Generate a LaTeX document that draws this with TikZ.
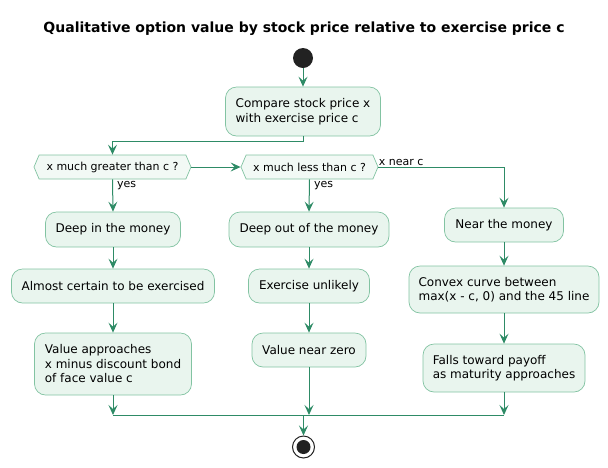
\documentclass[tikz,border=0pt]{standalone}
\usepackage{fontspec}
\setmainfont{DejaVu Sans}
\usetikzlibrary{arrows.meta,shapes.symbols}
\definecolor{boxfill}{HTML}{E9F5EE}
\definecolor{boxdraw}{HTML}{82C3A2}
\definecolor{lnk}{HTML}{2E8B66}
\definecolor{dark}{HTML}{222222}
\definecolor{hexfill}{HTML}{F2F9F5}
\begin{document}
\begin{tikzpicture}[x=1pt,y=-1pt,
 act/.style={draw=boxdraw, fill=boxfill, rounded corners=11pt, line width=0.7pt, align=left, font=\fontsize{12}{14.5}\selectfont, inner sep=0pt},
 hex/.style={draw=boxdraw, fill=hexfill, signal, signal to=west and east, signal pointer angle=134, font=\fontsize{11}{13}\selectfont, inner ysep=0pt, inner xsep=2pt, minimum height=24pt, line width=0.7pt},
 flow/.style={draw=lnk, line width=1pt, -{Stealth[length=10pt,width=9pt,inset=4pt]}},
 plain/.style={draw=lnk, line width=1pt},
 lbl/.style={font=\fontsize{11}{13}\selectfont, inner sep=0pt}]
\useasboundingbox (0,0) rectangle (608,467);
\node[font=\bfseries\fontsize{14}{16}\selectfont] (title) at (304,29) {Qualitative option value by stock price relative to exercise price c};
\node[circle, fill=dark, minimum size=20pt, inner sep=0pt] (start) at (303,58) {};
\node[act, minimum width=155pt, minimum height=49pt] (cmp) at (303,111.5) {Compare stock price x\\with exercise price c};
\node[hex, minimum width=157pt] (d1) at (112.5,167) {x much greater than c ?};
\node[hex, minimum width=137pt] (d2) at (309.5,167) {x much less than c ?};
\node[act, minimum width=135pt, minimum height=35pt] (a1) at (113,229.5) {Deep in the money};
\node[act, minimum width=160pt, minimum height=35pt] (b1) at (309,229.5) {Deep out of the money};
\node[act, minimum width=119pt, minimum height=34pt] (c1) at (504,225) {Near the money};
\node[act, minimum width=203pt, minimum height=34pt] (a2) at (113,286) {Almost certain to be exercised};
\node[act, minimum width=121pt, minimum height=34pt] (b2) at (309,286) {Exercise unlikely};
\node[act, minimum width=190pt, minimum height=47pt] (c2) at (504,289.5) {Convex curve between\\max(x - c, 0) and the 45 line};
\node[act, minimum width=157pt, minimum height=62pt] (a3) at (113,364) {Value approaches\\x minus discount bond\\of face value c};
\node[act, minimum width=114pt, minimum height=34pt] (b3) at (309,350) {Value near zero};
\node[act, minimum width=162pt, minimum height=48pt] (c3) at (504,368) {Falls toward payoff\\as maturity approaches};
\node[circle, draw=dark, fill=white, line width=1pt, minimum size=22pt, inner sep=0pt] (stop) at (303.5,447) {};
\node[circle, fill=dark, minimum size=14pt, inner sep=0pt] (stopdot) at (stop) {};
\coordinate (mL) at (113,415);
\coordinate (mR) at (504,415);
\coordinate (mM) at (303.5,415);
\draw[flow] (start) -- (cmp);
\draw[flow] (cmp.south) -- ++(0,5) -| (d1.north);
\draw[flow] (d1.east) -- (d2.west);
\draw[flow] (d1.south) -- (a1.north) node[lbl, at start, anchor=north west, xshift=4pt, yshift=-1pt] {yes};
\draw[flow] (d2.south) -- (b1.north) node[lbl, at start, anchor=north west, xshift=4pt, yshift=-1pt] {yes};
\draw[flow] (d2.east) -| (c1.north) node[lbl, at start, anchor=south west, yshift=1pt] {x near c};
\draw[flow] (a1) -- (a2);
\draw[flow] (a2) -- (a3);
\draw[flow] (b1) -- (b2);
\draw[flow] (b2) -- (b3);
\draw[flow] (c1) -- (c2);
\draw[flow] (c2) -- (c3);
\draw[flow] (a3.south) -- (a3.south |- mL);
\draw[flow] (b3.south) -- (b3.south |- mL);
\draw[flow] (c3.south) -- (c3.south |- mR);
\draw[plain] (mL) -- (mR);
\draw[flow] (mM) -- (stop);
\end{tikzpicture}
\end{document}
